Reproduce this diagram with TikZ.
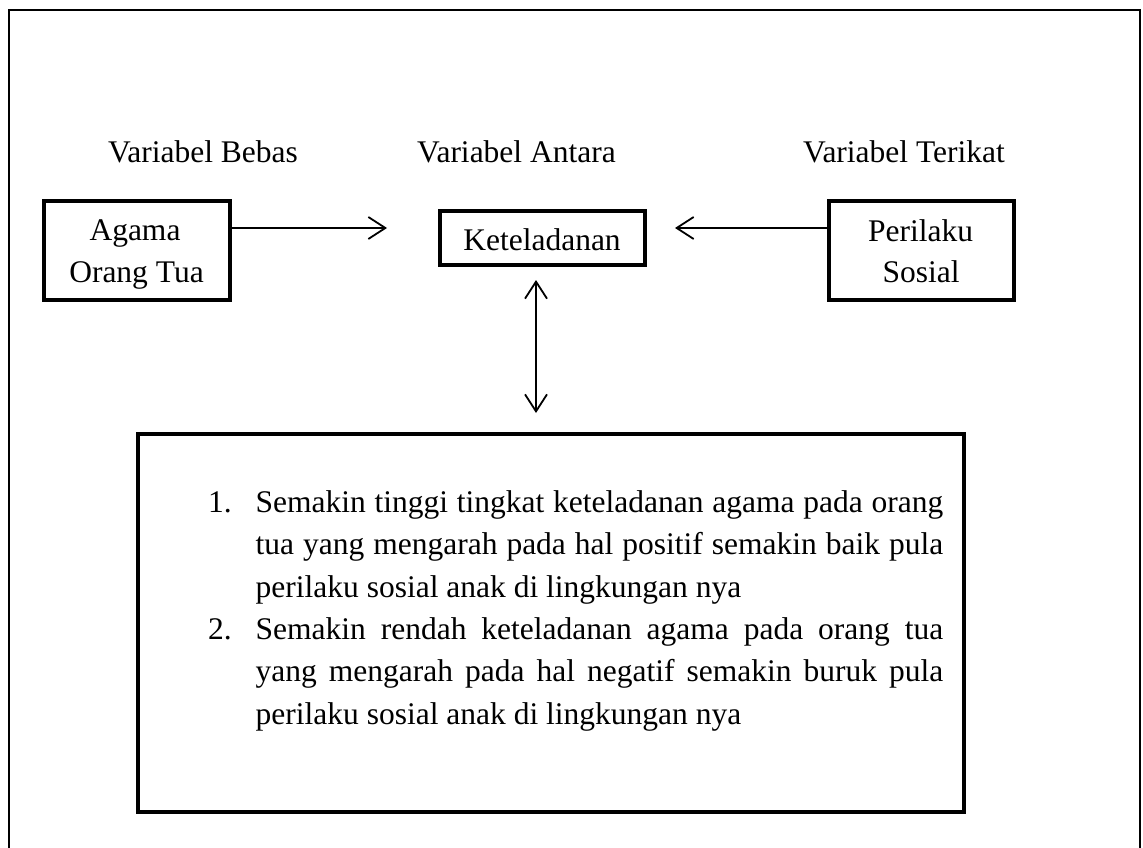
\documentclass[tikz,border=0pt]{standalone}
\usepackage{fontspec}
\setmainfont{Liberation Serif}
\usetikzlibrary{arrows.meta}
\newcommand\itemlabelbox[1]{#1\hfil}
\begin{document}
\begin{tikzpicture}[x=1pt,y=-1pt,
  every node/.style={font=\fontsize{31.5pt}{42.3pt}\selectfont, inner sep=0pt},
  frameline/.style={line width=2pt},
  varbox/.style={draw, line width=4pt, rectangle, inner sep=0pt},
  txt/.style={anchor=base},
  tipb/.tip={Straight Barb[length=17pt,width=22pt]},
  arr/.style={line width=1.8pt, -tipb},
  dblarr/.style={line width=1.8pt, tipb-tipb}]
\useasboundingbox (0,0) rectangle (1143,848);
\fill[white] (0,0) rectangle (1143,848);
% outer frame (open at the bottom)
\coordinate (f1) at (9,848);
\coordinate (f2) at (9,10);
\coordinate (f3) at (1140,10);
\coordinate (f4) at (1140,848);
\draw[frameline] (f1) -- (f2) -- (f3) -- (f4);
% column labels
\node[txt] (lbebas) at (203,163) {Variabel Bebas};
\node[txt] (lantara) at (516.5,163) {Variabel Antara};
\node[txt] (lterikat) at (904,163) {Variabel Terikat};
% boxes
\node[varbox, minimum width=186pt, minimum height=99pt] (agama) at (137,250.5) {};
\node[txt] (agamaA) at (135,240) {Agama};
\node[txt] (agamaB) at (136.5,282) {Orang Tua};
\node[varbox, minimum width=205pt, minimum height=54pt] (ket) at (542.5,238) {};
\node[txt] (ketT) at (542,250) {Keteladanan};
\node[varbox, minimum width=185pt, minimum height=99pt] (peri) at (921.5,250.5) {};
\node[txt] (periA) at (920.5,241) {Perilaku};
\node[txt] (periB) at (921,282) {Sosial};
\node[varbox, minimum width=826pt, minimum height=378pt] (big) at (551,623) {};
% arrows
\coordinate (ha) at (0,228);
\coordinate (vx) at (536,0);
\draw[arr, shorten >=51pt] (agama.east |- ha) -- (ket.west |- ha);
\draw[arr, shorten >=28pt] (peri.west |- ha) -- (ket.east |- ha);
\draw[dblarr, shorten <=13pt, shorten >=19pt] (ket.south -| vx) -- (big.north -| vx);
% list text
\node[anchor=north west] (items) at (208,490.5) {%
\begin{minipage}{735pt}
\fontsize{31.5pt}{42.3pt}\selectfont
\tolerance=10000 \hyphenpenalty=10000 \exhyphenpenalty=10000
\begin{list}{}{\setlength{\leftmargin}{47.5pt}\setlength{\labelwidth}{40pt}%
  \setlength{\labelsep}{7.5pt}\setlength{\itemsep}{0pt}\setlength{\parsep}{0pt}%
  \setlength{\topsep}{0pt}\setlength{\partopsep}{0pt}\let\makelabel\itemlabelbox}
\item[1.] Semakin tinggi tingkat keteladanan agama pada orang\linebreak
tua yang mengarah pada hal positif semakin baik pula\linebreak
perilaku sosial anak di lingkungan nya
\item[2.] Semakin rendah keteladanan agama pada orang tua\linebreak
yang mengarah pada hal negatif semakin buruk pula\linebreak
perilaku sosial anak di lingkungan nya
\end{list}
\end{minipage}};
\end{tikzpicture}
\end{document}
